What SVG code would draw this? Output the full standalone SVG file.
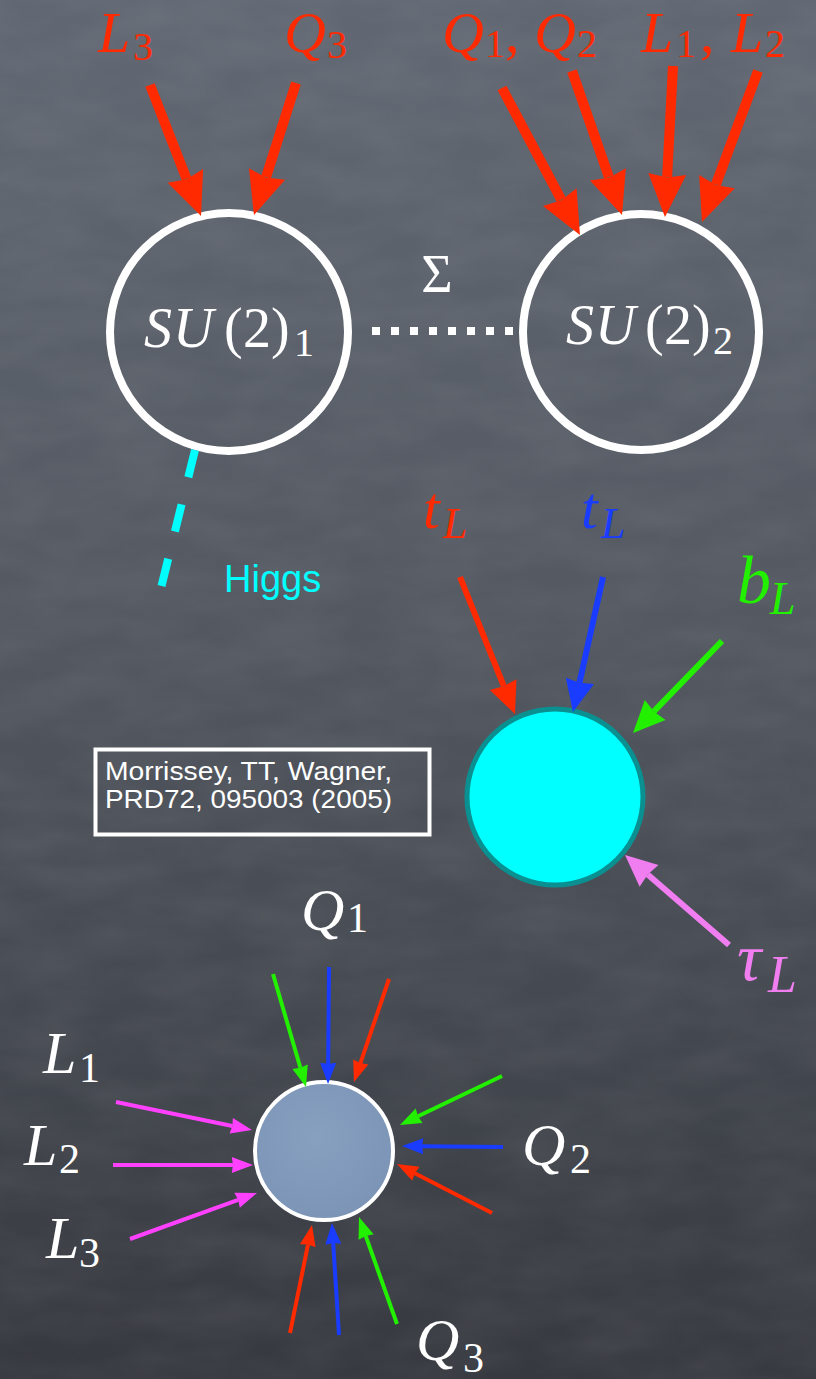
<svg xmlns="http://www.w3.org/2000/svg" width="816" height="1379" viewBox="0 0 816 1379">
<style>
.m{font-family:"Liberation Serif","Times New Roman",serif;}
.i{font-style:italic;}
.s{font-family:"Liberation Sans",Arial,sans-serif;}
.red{fill:#ff2a00;}
.wh{fill:#ffffff;}
.ring{fill:none;stroke:#ffffff;stroke-width:8;}
.ar10{fill:none;stroke-width:10;}
.ar6{fill:none;stroke-width:6;}
.ar4{fill:none;stroke-width:4;}
</style>
<defs>
<linearGradient id="bg" x1="0" y1="0" x2="0" y2="1">
<stop offset="0" stop-color="#626873"/>
<stop offset="0.45" stop-color="#535861"/>
<stop offset="1" stop-color="#36393f"/>
</linearGradient>
<radialGradient id="ball" cx="0.45" cy="0.4" r="0.7">
<stop offset="0" stop-color="#88a0c0"/>
<stop offset="1" stop-color="#7a92b4"/>
</radialGradient>
<filter id="chalk" x="0" y="0" width="100%" height="100%">
<feTurbulence type="fractalNoise" baseFrequency="0.012 0.03" numOctaves="3" seed="4"/>
<feColorMatrix type="matrix" values="0 0 0 0 1  0 0 0 0 1  0 0 0 0 1  0 0 0 0.09 -0.025"/>
</filter>
<marker id="hR10" markerUnits="strokeWidth" orient="auto" refX="0" refY="0" overflow="visible"><path d="M-0.3,-1.9 L4,0 L-0.3,1.9 L0.05,0 Z" fill="#ff2a00"/></marker>
<marker id="hR6" markerUnits="strokeWidth" orient="auto" refX="0" refY="0" overflow="visible"><path d="M-0.3,-2.4 L5,0 L-0.3,2.4 L0,0 Z" fill="#ff2a00"/></marker>
<marker id="hB6" markerUnits="strokeWidth" orient="auto" refX="0" refY="0" overflow="visible"><path d="M-0.3,-2.4 L5,0 L-0.3,2.4 L0,0 Z" fill="#1a3cff"/></marker>
<marker id="hG6" markerUnits="strokeWidth" orient="auto" refX="0" refY="0" overflow="visible"><path d="M-0.3,-2.4 L5,0 L-0.3,2.4 L0,0 Z" fill="#22f000"/></marker>
<marker id="hP6" markerUnits="strokeWidth" orient="auto" refX="0" refY="0" overflow="visible"><path d="M-0.3,-2.4 L5,0 L-0.3,2.4 L0,0 Z" fill="#f07ef0"/></marker>
<marker id="hR4" markerUnits="strokeWidth" orient="auto" refX="0" refY="0" overflow="visible"><path d="M-0.3,-2 L5,0 L-0.3,2 L0,0 Z" fill="#ff2a00"/></marker>
<marker id="hB4" markerUnits="strokeWidth" orient="auto" refX="0" refY="0" overflow="visible"><path d="M-0.3,-2 L5,0 L-0.3,2 L0,0 Z" fill="#1a3cff"/></marker>
<marker id="hG4" markerUnits="strokeWidth" orient="auto" refX="0" refY="0" overflow="visible"><path d="M-0.3,-2 L5,0 L-0.3,2 L0,0 Z" fill="#22f000"/></marker>
<marker id="hM4" markerUnits="strokeWidth" orient="auto" refX="0" refY="0" overflow="visible"><path d="M-0.3,-2 L5,0 L-0.3,2 L0,0 Z" fill="#ff40ff"/></marker>
</defs>

<rect x="0" y="0" width="816" height="1379" fill="url(#bg)"/>
<rect x="0" y="0" width="816" height="1379" filter="url(#chalk)"/>

<!-- nodes -->
<g id="su1">
<circle class="ring" cx="229" cy="332" r="119"/>
<text class="m wh" y="347" font-size="56"><tspan class="i" x="144">S</tspan><tspan class="i" x="173">U</tspan><tspan x="224">(</tspan><tspan x="243">2</tspan><tspan x="271">)</tspan><tspan x="294" y="356" font-size="40">1</tspan></text>
</g>
<g id="su2">
<circle class="ring" cx="641" cy="332" r="118"/>
<text class="m wh" y="344" font-size="56"><tspan class="i" x="566">S</tspan><tspan class="i" x="595">U</tspan><tspan x="645">(</tspan><tspan x="664">2</tspan><tspan x="692">)</tspan><tspan x="713" y="354" font-size="40">2</tspan></text>
</g>
<g id="label-L3"><text class="m red" y="52" font-size="58"><tspan class="i" x="98">L</tspan><tspan x="133" y="60" font-size="40">3</tspan></text></g>
<g id="label-Q3"><text class="m red" y="52" font-size="58"><tspan class="i" x="284">Q</tspan><tspan x="327" y="58" font-size="40">3</tspan></text></g>
<g id="label-Q1Q2"><text class="m red" y="52" font-size="58"><tspan class="i" x="442">Q</tspan><tspan x="485" y="57" font-size="40">1</tspan><tspan x="505" y="52">,</tspan><tspan class="i" x="534">Q</tspan><tspan x="577" y="57" font-size="40">2</tspan></text></g>
<g id="label-L1L2"><text class="m red" y="52" font-size="58"><tspan class="i" x="641">L</tspan><tspan x="676" y="57" font-size="40">1</tspan><tspan x="700" y="52">,</tspan><tspan class="i" x="731">L</tspan><tspan x="765" y="57" font-size="40">2</tspan></text></g>

<g id="higgs-label"><text class="s" x="224" y="592" font-size="38" fill="#00ffff">Higgs</text></g>

<g id="label-tL-red"><text class="m" y="528" font-size="60" fill="#ff2a00"><tspan class="i" x="423">t</tspan><tspan class="i" x="443" y="538" font-size="44">L</tspan></text></g>
<g id="label-tL-blue"><text class="m" y="528" font-size="60" fill="#1a3cff"><tspan class="i" x="581">t</tspan><tspan class="i" x="601" y="538" font-size="44">L</tspan></text></g>
<g id="label-bL"><text class="m" y="603" font-size="68" fill="#22f000"><tspan class="i" x="737">b</tspan><tspan class="i" x="770" y="614" font-size="46">L</tspan></text></g>
<g id="label-tauL"><text class="m" y="980" font-size="68" fill="#f07ef0"><tspan class="i" x="737">τ</tspan><tspan class="i" x="768" y="992" font-size="52">L</tspan></text></g>

<g id="cyan-node">
<circle cx="555" cy="797" r="88" fill="#00ffff" stroke="#0a9090" stroke-width="5"/>
</g>

<g id="reference-box">
<rect x="95.5" y="749.5" width="334" height="85" fill="none" stroke="#ffffff" stroke-width="4"/>
<text class="s wh" x="105" y="780" font-size="26" textLength="287" lengthAdjust="spacingAndGlyphs">Morrissey, TT, Wagner,</text>
<text class="s wh" x="105" y="808" font-size="26" textLength="287" lengthAdjust="spacingAndGlyphs">PRD72, 095003 (2005)</text>
</g>

<g id="bottom-node">
<circle cx="324" cy="1151" r="69" fill="url(#ball)" stroke="#ffffff" stroke-width="4"/>
</g>
<g id="label-Q1b"><text class="m wh" y="930" font-size="60"><tspan class="i" x="301">Q</tspan><tspan x="347" y="932" font-size="42">1</tspan></text></g>
<g id="label-L1b"><text class="m wh" y="1073" font-size="60"><tspan class="i" x="43">L</tspan><tspan x="79" y="1082" font-size="42">1</tspan></text></g>
<g id="label-L2b"><text class="m wh" y="1165" font-size="60"><tspan class="i" x="24">L</tspan><tspan x="59" y="1173" font-size="42">2</tspan></text></g>
<g id="label-L3b"><text class="m wh" y="1258" font-size="60"><tspan class="i" x="46">L</tspan><tspan x="79" y="1267" font-size="42">3</tspan></text></g>
<g id="label-Q2b"><text class="m wh" y="1165" font-size="60"><tspan class="i" x="522">Q</tspan><tspan x="570" y="1173" font-size="42">2</tspan></text></g>
<g id="label-Q3b"><text class="m wh" y="1360" font-size="60"><tspan class="i" x="416">Q</tspan><tspan x="463" y="1372" font-size="42">3</tspan></text></g>

<!-- connectors -->
<g id="connectors" stroke-linecap="butt">
<line x1="372" y1="331" x2="513" y2="331" stroke="#ffffff" stroke-width="8" stroke-dasharray="8 11"/>
<text class="m wh" x="437" y="292" font-size="54" text-anchor="middle">Σ</text>
<line x1="195" y1="450" x2="161" y2="588" stroke="#00ffff" stroke-width="8" stroke-dasharray="28 28"/>

<line class="ar10" stroke="#ff2a00" x1="150" y1="85" x2="186.5" y2="178.7" marker-end="url(#hR10)"/>
<line class="ar10" stroke="#ff2a00" x1="296" y1="83" x2="266.1" y2="176.9" marker-end="url(#hR10)"/>
<line class="ar10" stroke="#ff2a00" x1="502" y1="88" x2="561.2" y2="199.7" marker-end="url(#hR10)"/>
<line class="ar10" stroke="#ff2a00" x1="572" y1="71" x2="608.9" y2="177.2" marker-end="url(#hR10)"/>
<line class="ar10" stroke="#ff2a00" x1="673" y1="66" x2="667.1" y2="177" marker-end="url(#hR10)"/>
<line class="ar10" stroke="#ff2a00" x1="758" y1="71" x2="715.9" y2="184.5" marker-end="url(#hR10)"/>

<line class="ar6" stroke="#ff2a00" x1="460" y1="577" x2="503.8" y2="686.2" marker-end="url(#hR6)"/>
<line class="ar6" stroke="#1a3cff" x1="603" y1="577" x2="579.5" y2="682.7" marker-end="url(#hB6)"/>
<line class="ar6" stroke="#22f000" x1="722" y1="641" x2="653.9" y2="711.4" marker-end="url(#hG6)"/>
<line class="ar6" stroke="#f07ef0" x1="729" y1="945" x2="647.7" y2="874.6" marker-end="url(#hP6)"/>

<line class="ar4" stroke="#22f000" x1="273" y1="974" x2="300.4" y2="1067.8" marker-end="url(#hG4)"/>
<line class="ar4" stroke="#1a3cff" x1="329" y1="967" x2="328.2" y2="1064" marker-end="url(#hB4)"/>
<line class="ar4" stroke="#ff2a00" x1="389" y1="979" x2="360.4" y2="1063.1" marker-end="url(#hR4)"/>
<line class="ar4" stroke="#ff40ff" x1="116" y1="1102" x2="232.4" y2="1126" marker-end="url(#hM4)"/>
<line class="ar4" stroke="#ff40ff" x1="113" y1="1165" x2="233" y2="1165" marker-end="url(#hM4)"/>
<line class="ar4" stroke="#ff40ff" x1="130" y1="1239" x2="238.2" y2="1199.8" marker-end="url(#hM4)"/>
<line class="ar4" stroke="#22f000" x1="502" y1="1076" x2="418" y2="1116.3" marker-end="url(#hG4)"/>
<line class="ar4" stroke="#1a3cff" x1="503" y1="1147" x2="422" y2="1146.2" marker-end="url(#hB4)"/>
<line class="ar4" stroke="#ff2a00" x1="492" y1="1213" x2="414.8" y2="1173.2" marker-end="url(#hR4)"/>
<line class="ar4" stroke="#ff2a00" x1="290" y1="1333" x2="308" y2="1244.6" marker-end="url(#hR4)"/>
<line class="ar4" stroke="#1a3cff" x1="339" y1="1335" x2="333.2" y2="1243" marker-end="url(#hB4)"/>
<line class="ar4" stroke="#22f000" x1="397" y1="1324" x2="365.7" y2="1235.9" marker-end="url(#hG4)"/>
</g>
</svg>
